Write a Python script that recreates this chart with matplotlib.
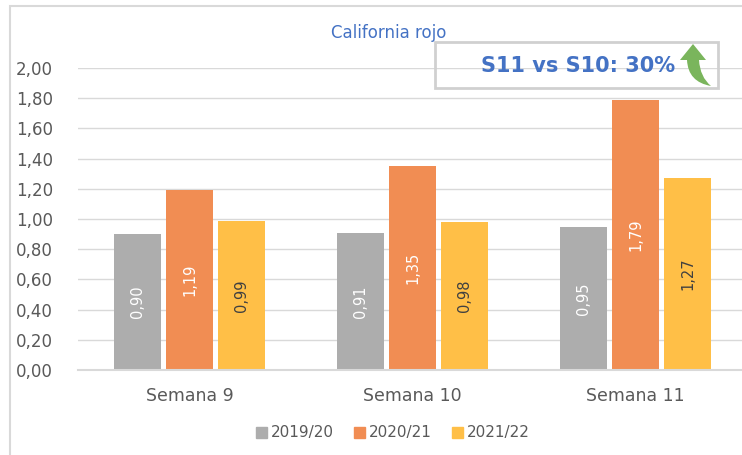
import matplotlib
matplotlib.use("Agg")
import numpy as np
from matplotlib import pyplot as plt
from matplotlib.patches import Rectangle, Patch, PathPatch
from matplotlib.path import Path

plt.rcParams['font.family'] = ['DejaVu Sans']

semanas = ['Semana 9', 'Semana 10', 'Semana 11']
temporadas = ['2019/20', '2020/21', '2021/22']
v_1920 = [0.90, 0.91, 0.95]
v_2021 = [1.19, 1.35, 1.79]
v_2122 = [0.99, 0.98, 1.27]
valores = [v_1920, v_2021, v_2122]
colores = ['#ADADAD', '#F18D53', '#FFBF47']
col_etiqueta = ['white', 'white', '#404040']

W, H = 742, 455
fig = plt.figure(figsize=(W / 100, H / 100), dpi=100)
ax = fig.add_axes([78 / W, 1 - 370 / H, 669 / W, 302 / H])

x = np.arange(len(semanas))
ancho = 0.21
paso = 0.233
for i, serie in enumerate(valores):
    pos = x + (i - 1) * paso
    barras = ax.bar(pos, serie, width=ancho, color=colores[i], zorder=2)
    for b, v in zip(barras, serie):
        ax.text(b.get_x() + b.get_width() / 2, v / 2, f'{v:.2f}'.replace('.', ','),
                rotation=90, ha='center', va='center',
                color=col_etiqueta[i], fontsize=10.5, zorder=3)

ax.set_xlim(-0.5, 2.5)
ax.set_ylim(0, 2.0)
ax.set_yticks(np.arange(0, 2.01, 0.2))
ax.set_yticklabels([f'{t:.2f}'.replace('.', ',') for t in np.arange(0, 2.01, 0.2)])
ax.set_xticks(x)
ax.set_xticklabels(semanas)
ax.tick_params(axis='both', length=0, colors='#595959')
ax.tick_params(axis='y', pad=18, labelsize=12)
ax.tick_params(axis='x', pad=12, labelsize=12.5)
ax.grid(axis='y', color='#D9D9D9', linewidth=1, zorder=0)
for s in ['top', 'right', 'left']:
    ax.spines[s].set_visible(False)
ax.spines['bottom'].set_color('#D9D9D9')
ax.spines['bottom'].set_linewidth(1.5)
ax.spines['bottom'].set_zorder(2.5)

fig.text(389 / W, 1 - 33 / H, 'California rojo', ha='center', va='center',
         color='#4472C4', fontsize=12)

handles = [Patch(color=c) for c in colores]
fig.legend(handles, temporadas, loc='center', bbox_to_anchor=(393 / W, 1 - 433 / H),
           ncol=3, frameon=False, handlelength=0.7, handleheight=0.7,
           handletextpad=0.3, columnspacing=1.3, fontsize=11, labelcolor='#595959')

# marco del grafico
fig.patches.append(Rectangle((10 / W, -0.05), 1.1, 1 - 6 / H + 0.05, transform=fig.transFigure,
                             fill=False, edgecolor='#D9D9D9', linewidth=1.5))

# recuadro comentario
fig.patches.append(Rectangle((435 / W, 1 - 88 / H), 283 / W, 46 / H, transform=fig.transFigure,
                             fill=False, edgecolor='#D0D0D0', linewidth=2, zorder=5))
fig.text(578 / W, 1 - 66 / H, 'S11 vs S10: 30%', ha='center', va='center',
         color='#4472C4', fontsize=15, fontweight='bold', zorder=6)

# flecha verde curva (coordenadas en pixeles, y hacia abajo)
pts = [(693, 44), (706, 60), (699, 60), (700, 77), (711, 86),
       (688, 82), (687, 60), (680, 60), (693, 44)]
codes = [Path.MOVETO, Path.LINETO, Path.LINETO, Path.CURVE3, Path.CURVE3,
         Path.CURVE3, Path.CURVE3, Path.LINETO, Path.CLOSEPOLY]
verts = [(px / W, 1 - py / H) for px, py in pts]
fig.patches.append(PathPatch(Path(verts, codes), transform=fig.transFigure,
                             facecolor='#7AB55C', edgecolor='none', zorder=6))

fig.savefig('out.png', dpi=100)
